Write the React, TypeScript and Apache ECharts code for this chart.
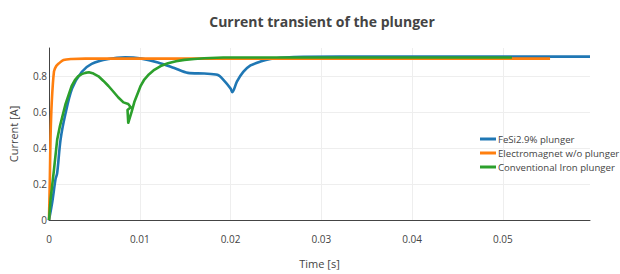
import React, { useEffect, useRef } from "react";
import * as echarts from "echarts";

const title = "Current transient of the plunger";
const seriesNames = ["FeSi2.9% plunger", "Electromagnet w/o plunger", "Conventional Iron plunger"];
const colors = ["#1f77b4", "#ff7f0e", "#2ca02c"];

const fesiT = [0, 0.00036, 0.00072, 0.0009, 0.00127, 0.0018, 0.00254, 0.0036, 0.0047, 0.00655, 0.0084, 0.0102, 0.012, 0.0138, 0.0153, 0.0171, 0.01855, 0.01924, 0.02, 0.0202, 0.0207, 0.0214, 0.0222, 0.0233, 0.0244, 0.026, 0.028, 0.032, 0.04, 0.05, 0.0596];
const fesiV = [0, 0.1, 0.227, 0.26, 0.445, 0.587, 0.73, 0.822, 0.867, 0.894, 0.903, 0.896, 0.875, 0.844, 0.817, 0.813, 0.806, 0.777, 0.73, 0.71, 0.768, 0.822, 0.858, 0.88, 0.894, 0.902, 0.906, 0.907, 0.907, 0.907, 0.907];

const emT = [0, 0.0001, 0.00017, 0.0003, 0.00055, 0.0008, 0.0011, 0.0016, 0.0025, 0.004, 0.01, 0.03, 0.0552];
const emV = [0, 0.25, 0.46, 0.65, 0.825, 0.855, 0.87, 0.888, 0.894, 0.896, 0.896, 0.896, 0.896];

const ironT = [0, 0.00018, 0.00055, 0.0009, 0.0012, 0.00145, 0.0018, 0.0022, 0.0025, 0.0029, 0.0032, 0.0036, 0.004, 0.0044, 0.0049, 0.00545, 0.006, 0.00655, 0.0071, 0.00764, 0.0082, 0.00873, 0.009, 0.00865, 0.00873, 0.0091, 0.0094, 0.0098, 0.0101, 0.0105, 0.011, 0.0116, 0.0123, 0.0131, 0.014, 0.0149, 0.016, 0.0171, 0.0192, 0.025, 0.04, 0.051];
const ironV = [0, 0.118, 0.28, 0.445, 0.52, 0.57, 0.64, 0.7, 0.745, 0.78, 0.797, 0.81, 0.817, 0.82, 0.813, 0.798, 0.772, 0.744, 0.712, 0.68, 0.653, 0.644, 0.626, 0.611, 0.54, 0.6, 0.655, 0.707, 0.745, 0.78, 0.808, 0.834, 0.855, 0.87, 0.881, 0.889, 0.894, 0.898, 0.902, 0.902, 0.902, 0.902];

const xTicksStep = 0.01;
const yTicksStep = 0.2;
const xMax = 0.0596;
const yMax = 0.955;

const zip = (t: number[], v: number[]) => t.map((x, i) => [x, v[i]]);

export default function App() {
  const ref = useRef<HTMLDivElement>(null);
  useEffect(() => {
    if (!ref.current) return;
    const chart = echarts.init(ref.current, undefined, { renderer: "svg" });
    const font = "'Open Sans', sans-serif";
    const txt = "#444";
    const smooths = [0.3, 0.3, false];
    chart.setOption({
      animation: false,
      textStyle: { fontFamily: font },
      title: {
        text: title,
        left: 317,
        textAlign: "center",
        top: 9,
        textStyle: { fontFamily: font, fontSize: 14, fontWeight: "bold", color: txt },
      },
      legend: {
        orient: "vertical",
        left: 475,
        top: 128,
        itemWidth: 16,
        itemHeight: 3,
        itemGap: 2,
        icon: "rect",
        textStyle: { fontFamily: font, fontSize: 9.6, color: txt, lineHeight: 12, padding: [0, 0, 0, -3] },
        data: seriesNames,
      },
      grid: { left: 46, right: 30, top: 48, bottom: 49, containLabel: false },
      xAxis: {
        type: "value",
        min: 0,
        max: xMax,
        interval: xTicksStep,
        name: "Time [s]",
        nameLocation: "middle",
        nameGap: 38,
        nameTextStyle: { fontFamily: font, fontSize: 11, color: txt },
        axisLine: { show: true, lineStyle: { color: "#444", width: 1 } },
        axisTick: { show: false },
        axisLabel: { margin: 14, fontFamily: font, fontSize: 10, color: txt, showMaxLabel: false },
        splitLine: { show: true, showMinLine: false, showMaxLine: false, lineStyle: { color: "#eee", width: 1 } },
      },
      yAxis: {
        type: "value",
        min: 0,
        max: yMax,
        interval: yTicksStep,
        name: "Current [A]",
        nameLocation: "middle",
        nameGap: 30,
        nameTextStyle: { fontFamily: font, fontSize: 11, color: txt },
        axisLine: { show: true, lineStyle: { color: "#444", width: 1 } },
        axisTick: { show: false },
        axisLabel: { margin: 2, fontFamily: font, fontSize: 10, color: txt, showMaxLabel: false },
        splitLine: { show: true, showMinLine: false, showMaxLine: false, lineStyle: { color: "#eee", width: 1 } },
      },
      series: [
        { name: seriesNames[0], data: zip(fesiT, fesiV) },
        { name: seriesNames[1], data: zip(emT, emV) },
        { name: seriesNames[2], data: zip(ironT, ironV) },
      ].map((s, i) => ({
        ...s,
        type: "line",
        showSymbol: false,
        symbol: "none",
        smooth: smooths[i],
        lineStyle: { width: 2.6, color: colors[i], join: "round" },
        itemStyle: { color: colors[i] },
      })),
    });
    return () => chart.dispose();
  }, []);
  return <div ref={ref} style={{ width: 620, height: 274, position: "absolute", left: 0, top: 0 }} />;
}
